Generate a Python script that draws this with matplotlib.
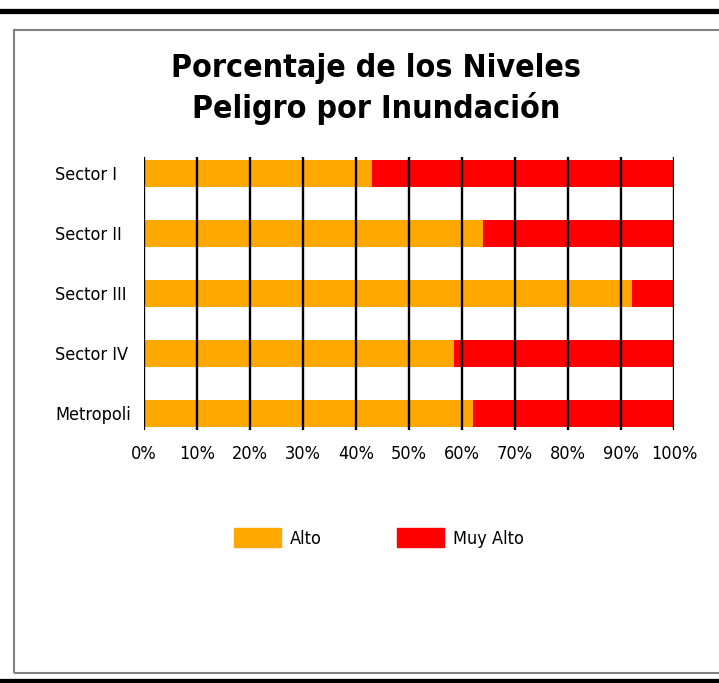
import matplotlib
matplotlib.use('Agg')
import matplotlib.pyplot as plt
from matplotlib.patches import Patch, Rectangle
from matplotlib.lines import Line2D

plt.rcParams['font.family'] = ['DejaVu Sans']
plt.rcParams['font.stretch'] = 'condensed'

# datos (porcentaje por sector)
sectores = ['Sector I', 'Sector II', 'Sector III', 'Sector IV', 'Metropoli']
alto = [43, 64, 92, 58.5, 62]
muy_alto = [57, 36, 8, 41.5, 38]
ticks_x = [0, 10, 20, 30, 40, 50, 60, 70, 80, 90, 100]
ticks_txt = ['0%', '10%', '20%', '30%', '40%', '50%', '60%', '70%', '80%', '90%', '100%']

fig = plt.figure(figsize=(7.19, 6.83), dpi=100)
ax = fig.add_axes([144/719, 1 - 430/683, 530/719, 273/683])

pos = list(range(len(sectores)))
ax.barh(pos, alto, height=0.45, color='#FFA800', label='Alto', zorder=1)
ax.barh(pos, muy_alto, left=alto, height=0.45, color='#FF0000', label='Muy Alto', zorder=1)

ax.set_xlim(0, 100)
ax.set_ylim(4.28, -0.27)
ax.set_xticks(ticks_x)
ax.set_xticklabels(ticks_txt, fontsize=13)
ax.set_yticks(pos)
ax.set_yticklabels(sectores, fontsize=13, ha='left')
ax.tick_params(axis='x', length=0, pad=11)
ax.tick_params(axis='y', length=0, pad=64)
for x in ticks_x:
    ax.axvline(x, color='black', lw=1.7, zorder=3)
for s in ax.spines.values():
    s.set_visible(False)

# titulo
fig.text(376/719, 1 - 53/683, 'Porcentaje de los Niveles\nPeligro por Inundación',
         ha='center', va='top', fontsize=23, fontweight='bold', linespacing=1.3)

# leyenda
handles = [Patch(color='#FFA800', label='Alto'), Patch(color='#FF0000', label='Muy Alto')]
fig.legend(handles=handles, loc='center', bbox_to_anchor=(379/719, 1 - 538/683),
           ncol=2, frameon=False, fontsize=13, handlelength=2.6, handleheight=1.2,
           handletextpad=0.5, columnspacing=4.2)

# marco y lineas negras
fig.patches.append(Rectangle((14/719, 1 - 673/683), 720/719, 643/683, transform=fig.transFigure,
                             fill=False, edgecolor='#808080', lw=1.5))
fig.lines.append(Line2D([0, 1], [1 - 10.5/683, 1 - 10.5/683], transform=fig.transFigure,
                        color='black', lw=3.8))
fig.lines.append(Line2D([0, 1], [1 - 680.5/683, 1 - 680.5/683], transform=fig.transFigure,
                        color='black', lw=3.8))

fig.savefig('out.png', dpi=100)
